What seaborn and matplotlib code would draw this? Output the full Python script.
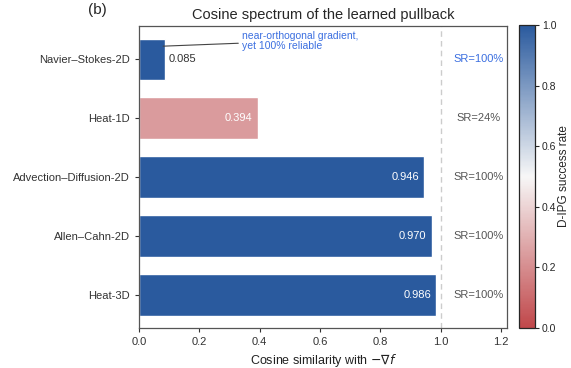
import numpy as np
import pandas as pd
import matplotlib
matplotlib.use("Agg")
import matplotlib.pyplot as plt
from matplotlib.colors import LinearSegmentedColormap, Normalize
from matplotlib.cm import ScalarMappable
import seaborn as sns

# Benchmarks, cosine similarity of the learned pullback with -grad f, and success rates
problems = ["Navier–Stokes-2D", "Heat-1D", "Advection–Diffusion-2D", "Allen–Cahn-2D", "Heat-3D"]
cosine = [0.085, 0.394, 0.946, 0.970, 0.986]
success = [1.00, 0.24, 1.00, 1.00, 1.00]
sr_labels = ["SR=100%", "SR=24%", "SR=100%", "SR=100%", "SR=100%"]
cbar_ticks = [0.0, 0.2, 0.4, 0.6, 0.8, 1.0]
x_ticks = [0.0, 0.2, 0.4, 0.6, 0.8, 1.0, 1.2]

sns.set_style("white")
plt.rcParams["font.family"] = ["Liberation Sans", "DejaVu Sans"]
plt.rcParams["mathtext.fontset"] = "dejavusans"

cmap = LinearSegmentedColormap.from_list("sr", ["#c0474a", "#f7f7f7", "#2a5a9e"])
norm = Normalize(0, 1)
bar_colors = [cmap(norm(s)) for s in success]

df = pd.DataFrame({"problem": problems, "cosine": cosine})

fig = plt.figure(figsize=(5.71, 3.68), dpi=100)
ax = fig.add_axes([0.2434, 0.109, 0.6446, 0.820])
cax = fig.add_axes([0.909, 0.109, 0.028, 0.823])

sns.barplot(data=df, x="cosine", y="problem", hue="problem", palette=bar_colors,
            saturation=1, width=0.7, legend=False, ax=ax, orient="h")

ax.set_xlim(0, 1.22)
ax.set_ylim(4.56, -0.56)
ax.set_xticks(x_ticks)
ax.set_xticklabels([f"{t:.1f}" for t in x_ticks])
ax.axvline(1.0, color="#cccccc", ls=(0, (4, 3)), lw=1.0, zorder=0)

ax.set_xlabel(r"Cosine similarity with $-\nabla f$", fontsize=9, color="#222222")
ax.set_ylabel("")
ax.set_title("Cosine spectrum of the learned pullback", fontsize=10.5, pad=5)
ax.tick_params(axis="both", labelsize=8, length=3, width=0.8, colors="#333333",
               left=True, bottom=True)
for sp in ax.spines.values():
    sp.set_visible(True)
    sp.set_color("#555555")
    sp.set_linewidth(0.9)

for i, (v, s, lab) in enumerate(zip(cosine, success, sr_labels)):
    if v < 0.2:
        ax.text(v + 0.012, i, f"{v:.3f}", va="center", ha="left", fontsize=8, color="#333333")
    else:
        ax.text(v - 0.018, i, f"{v:.3f}", va="center", ha="right", fontsize=8, color="white")
    sr_color = "#3b6fe0" if v < 0.2 else "#555555"
    ax.text(1.125, i, lab, va="center", ha="center", fontsize=8, color=sr_color)

ax.annotate("near-orthogonal gradient,\nyet 100% reliable",
            xy=(cosine[0] - 0.005, -0.22), xytext=(0.34, -0.31),
            fontsize=7.5, color="#3b6fe0", ha="left", va="center", linespacing=0.95,
            arrowprops=dict(arrowstyle="-", color="#444444", lw=0.8, shrinkA=0, shrinkB=0))

cb = fig.colorbar(ScalarMappable(norm=norm, cmap=cmap), cax=cax)
cb.set_ticks(cbar_ticks)
cb.ax.tick_params(labelsize=7.5, length=3, width=0.8, pad=2)
cb.outline.set_linewidth(0.9)
cb.set_label("D-IPG success rate", fontsize=8.5, labelpad=1)

fig.text(0.154, 0.973, "(b)", fontsize=11, ha="left", va="center")

fig.savefig("out.png", dpi=100)
